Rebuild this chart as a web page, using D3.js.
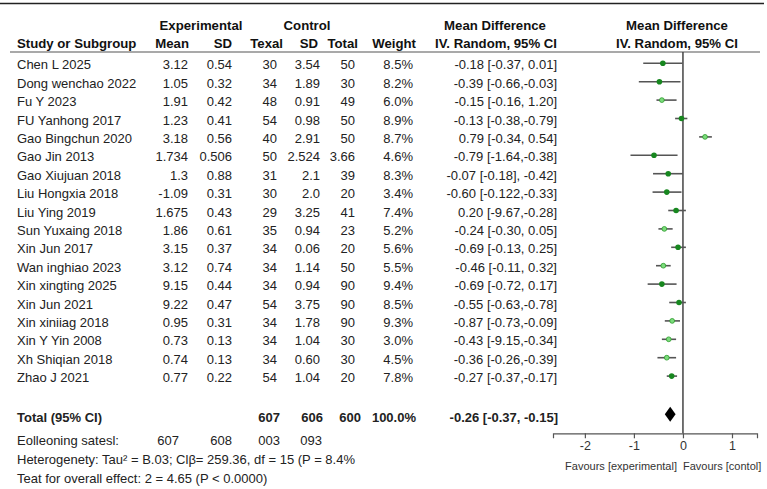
<!DOCTYPE html>
<html>
<head>
<meta charset="utf-8">
<title>Forest plot</title>
<style>
  body { margin: 0; background: #fff; }
  svg { display: block; font-family: "Liberation Sans", Arial, sans-serif; }
  .hdr { font-weight: bold; font-size: 13.2px; fill: #111; }
  .cell { font-size: 13px; fill: #222; }
  .bold { font-weight: bold; }
  .axis text { font-size: 12.5px; fill: #333; font-family: "Liberation Sans", Arial, sans-serif; }
  .axis path, .axis line { stroke: #555; stroke-width: 1.2; }
</style>
<script src="https://cdn.jsdelivr.net/npm/d3@7"></script>
</head>
<body>
<svg width="767" height="489"></svg>
<script>
// table data
var studies = ["Chen L 2025", "Dong wenchao 2022", "Fu Y 2023", "FU Yanhong 2017", "Gao Bingchun 2020",
  "Gao Jin 2013", "Gao Xiujuan 2018", "Liu Hongxia 2018", "Liu Ying 2019", "Sun Yuxaing 2018",
  "Xin Jun 2017", "Wan inghiao 2023", "Xin xingting 2025", "Xin Jun 2021", "Xin xiniiag 2018",
  "Xin Y Yin 2008", "Xh Shiqian 2018", "Zhao J 2021"];
var expMean = ["3.12", "1.05", "1.91", "1.23", "3.18", "1.734", "1.3", "-1.09", "1.675", "1.86",
  "3.15", "3.12", "9.15", "9.22", "0.95", "0.73", "0.74", "0.77"];
var expSD = ["0.54", "0.32", "0.42", "0.41", "0.56", "0.506", "0.88", "0.31", "0.43", "0.61",
  "0.37", "0.74", "0.44", "0.47", "0.31", "0.13", "0.13", "0.22"];
var texal = ["30", "34", "48", "54", "40", "50", "31", "30", "29", "35", "34", "34", "34", "54", "34", "34", "34", "54"];
var ctlSD = ["3.54", "1.89", "0.91", "0.98", "2.91", "2.524", "2.1", "2.0", "3.25", "0.94",
  "0.06", "1.14", "0.94", "3.75", "1.78", "1.04", "0.60", "1.04"];
var ctlTotal = ["50", "30", "49", "50", "50", "3.66", "39", "20", "41", "23", "20", "50", "90", "90", "90", "30", "30", "20"];
var weights = ["8.5%", "8.2%", "6.0%", "8.9%", "8.7%", "4.6%", "8.3%", "3.4%", "7.4%", "5.2%",
  "5.6%", "5.5%", "9.4%", "8.5%", "9.3%", "3.0%", "4.5%", "7.8%"];
var mdText = ["-0.18 [-0.37, 0.01]", "-0.39 [-0.66,-0.03]", "-0.15 [-0.16, 1.20]", "-0.13 [-0.38,-0.79]",
  "0.79 [-0.34, 0.54]", "-0.79 [-1.64,-0.38]", "-0.07 [-0.18], -0.42]", "-0.60 [-0.122,-0.33]",
  "0.20 [-9.67,-0.28]", "-0.24 [-0.30, 0.05]", "-0.69 [-0.13, 0.25]", "-0.46 [-0.11, 0.32]",
  "-0.69 [-0.72, 0.17]", "-0.55 [-0.63,-0.78]", "-0.87 [-0.73,-0.09]", "-0.43 [-9.15,-0.34]",
  "-0.36 [-0.26,-0.39]", "-0.27 [-0.37,-0.17]"];

// what the forest panel actually draws
var plotMD = [-0.41, -0.48, -0.43, -0.03, 0.45, -0.59, -0.30, -0.33, -0.14, -0.38, -0.10, -0.40, -0.43, -0.08, -0.22, -0.29, -0.33, -0.23];
var plotLo = [-0.81, -0.90, -0.54, -0.16, 0.33, -1.07, -0.61, -0.62, -0.30, -0.50, -0.24, -0.55, -0.72, -0.28, -0.37, -0.43, -0.52, -0.33];
var plotHi = [-0.01, -0.05, -0.13, 0.09, 0.59, -0.11, 0.00, -0.03, 0.06, -0.21, 0.06, -0.25, -0.13, 0.06, -0.06, -0.14, -0.14, -0.12];
var markerKind = ["d", "d", "l", "d", "l", "d", "d", "d", "d", "l", "d", "l", "d", "d", "l", "l", "l", "d"];

var totalRow = ["607", "606", "600", "100.0%", "-0.26 [-0.37, -0.15]"];
var pooled = {md: -0.26, lo: -0.37, hi: -0.15};
var eventsRow = ["607", "608", "003", "093"];
var axisTicks = [-2, -1, 0, 1];

var svg = d3.select("svg");

// top rule and header underline
svg.append("line").attr("x1", 0).attr("x2", 764).attr("y1", 3.5).attr("y2", 3.5)
  .attr("stroke", "#222").attr("stroke-width", 1.5);
svg.append("line").attr("x1", 10).attr("x2", 760).attr("y1", 52).attr("y2", 52)
  .attr("stroke", "#555").attr("stroke-width", 1.2);

function txt(x, y, s, anchor, cls) {
  return svg.append("text").attr("x", x).attr("y", y).attr("text-anchor", anchor || "start")
    .attr("class", cls || "cell").text(s);
}

// headers
txt(201, 30, "Experimental", "middle", "hdr");
txt(307, 30, "Control", "middle", "hdr");
txt(495, 30, "Mean Difference", "middle", "hdr");
txt(677, 30, "Mean Difference", "middle", "hdr");
txt(17, 48.3, "Study or Subgroup", "start", "hdr");
txt(189, 48.3, "Mean", "end", "hdr");
txt(232, 48.3, "SD", "end", "hdr");
txt(283, 48.3, "Texal", "end", "hdr");
txt(318, 48.3, "SD", "end", "hdr");
txt(358, 48.3, "Total", "end", "hdr");
txt(416, 48.3, "Weight", "end", "hdr");
txt(557, 48.3, "IV. Random, 95% CI", "end", "hdr");
txt(677, 48.3, "IV. Random, 95% CI", "middle", "hdr");

var y = d3.scalePoint().domain(d3.range(studies.length)).range([69.3, 382.1]);

var cols = [
  {vals: studies, x: 17, a: "start"},
  {vals: expMean, x: 188, a: "end"},
  {vals: expSD, x: 232, a: "end"},
  {vals: texal, x: 277, a: "end"},
  {vals: ctlSD, x: 320, a: "end"},
  {vals: ctlTotal, x: 355, a: "end"},
  {vals: weights, x: 413, a: "end"},
  {vals: mdText, x: 557, a: "end"}
];
cols.forEach(function(c) {
  svg.append("g").selectAll("text").data(c.vals).enter().append("text")
    .attr("class", "cell")
    .attr("x", c.x)
    .attr("y", function(d, i) { return y(i); })
    .attr("text-anchor", c.a)
    .text(function(d) { return d; });
});

// total + footer
var totY = 422.3;
txt(17, totY, "Total (95% CI)", "start", "cell bold");
[280, 323, 361, 416, 558].forEach(function(x, i) {
  txt(x, totY, totalRow[i], "end", "cell bold");
});
txt(17, 445, "Eolleoning satesl:", "start");
[179, 232, 280, 322].forEach(function(x, i) { txt(x, 445, eventsRow[i], "end"); });
txt(17, 464, "Heterogenety: Tau\u00b2 = B.03; Cl\u03b2= 259.36, df = 15 (P = 8.4%", "start");
txt(17, 482.7, "Teat for overall effect: 2 = 4.65 (P < 0.0000)", "start");

// forest panel
var x = d3.scaleLinear().domain([-2.65, 1.51]).range([553, 757]);
var axisY = 433.3;

svg.append("line").attr("x1", x(0)).attr("x2", x(0)).attr("y1", 52).attr("y2", axisY)
  .attr("stroke", "#444").attr("stroke-width", 1.5);

var rows = svg.append("g").selectAll("g").data(plotMD).enter().append("g")
  .attr("transform", function(d, i) { return "translate(0," + (y(i) - 6) + ")"; });

rows.append("line")
  .attr("x1", function(d, i) { return x(plotLo[i]); })
  .attr("x2", function(d, i) { return x(plotHi[i]); })
  .attr("stroke", "#555").attr("stroke-width", 1.6);

rows.append("circle")
  .attr("cx", function(d) { return x(d); })
  .attr("r", function(d, i) { return markerKind[i] == "d" ? 2.8 : 2.4; })
  .attr("fill", function(d, i) { return markerKind[i] == "d" ? "#17871f" : "#7cdc7c"; })
  .attr("stroke", function(d, i) { return markerKind[i] == "d" ? "none" : "#2a9a2a"; })
  .attr("stroke-width", 0.8);

// pooled diamond
var dy = totY - 8;
svg.append("path")
  .attr("d", "M" + x(pooled.lo) + "," + dy + "L" + x(pooled.md) + "," + (dy - 7.5) +
    "L" + x(pooled.hi) + "," + dy + "L" + x(pooled.md) + "," + (dy + 7.5) + "Z")
  .attr("fill", "#000");

var ax = svg.append("g").attr("class", "axis")
  .attr("transform", "translate(0," + axisY + ")")
  .call(d3.axisBottom(x).tickValues(axisTicks).tickFormat(function(d) { return String(d); })
    .tickSizeOuter(0).tickSize(5).tickPadding(3));

svg.append("text").attr("x", 677).attr("y", 470).attr("text-anchor", "end")
  .attr("font-size", 11).attr("fill", "#333").text("Favours [experimental]");
svg.append("text").attr("x", 683).attr("y", 470).attr("text-anchor", "start")
  .attr("font-size", 11).attr("fill", "#333").text("Favours [contol]");
</script>
</body>
</html>
